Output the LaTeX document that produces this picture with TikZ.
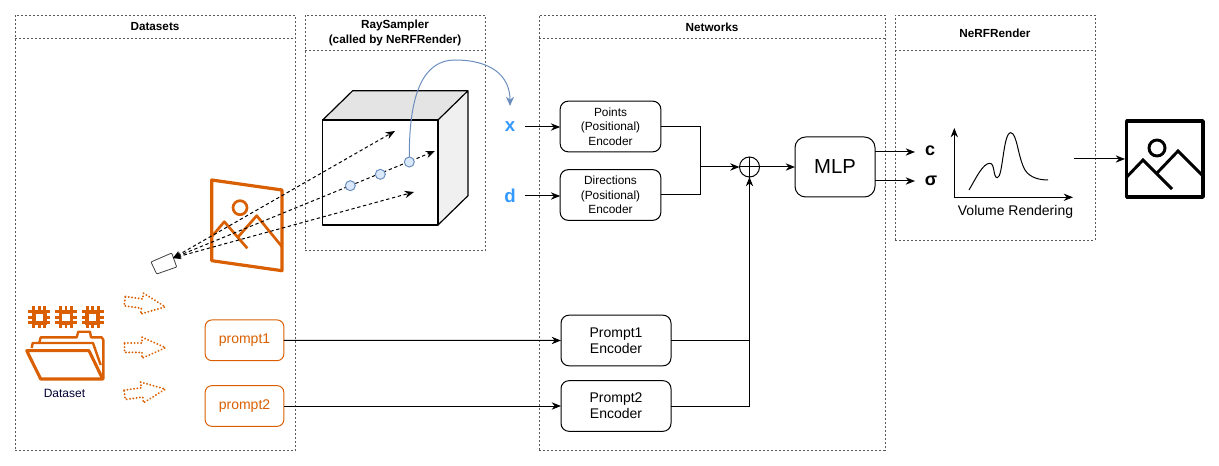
\documentclass[tikz,border=0pt]{standalone}
\usepackage{fontspec}
\setmainfont{Liberation Sans}
\usetikzlibrary{arrows.meta}
\definecolor{orng}{HTML}{D95F02}
\definecolor{blu}{HTML}{3399FF}
\definecolor{cblue}{HTML}{6C8EBF}
\definecolor{cfill}{HTML}{DAE8FC}
\definecolor{cubetop}{HTML}{E4E4E4}
\definecolor{cubeside}{HTML}{F0F0F0}
\tikzset{
  panel/.style={draw=black!65,line width=0.6pt,dash pattern=on 1.5pt off 1.5pt,anchor=north west,inner sep=0pt,outer sep=0pt},
  hdr/.style={font=\bfseries\fontsize{8.8}{10.6}\selectfont,align=center,inner sep=0pt},
  enc/.style={draw=black,line width=0.75pt,rounded corners=6pt,align=center,inner sep=0pt,outer sep=0pt,minimum width=75.5pt,minimum height=38pt,font=\fontsize{8.9}{10.9}\selectfont},
  penc/.style={enc,minimum width=82.5pt,font=\fontsize{10.5}{12}\selectfont},
  prm/.style={draw=orng,line width=0.75pt,rounded corners=5pt,text=orng,inner sep=0pt,outer sep=0pt,minimum width=59pt,minimum height=30.5pt,font=\fontsize{10.5}{12}\selectfont},
  conn/.style={line width=0.75pt,-{Stealth[length=7pt,width=5.5pt]}},
  wire/.style={line width=0.75pt},
  ray/.style={line width=0.75pt,dash pattern=on 2.5pt off 2pt,{Stealth[length=6pt,width=5pt]}-{Stealth[length=7pt,width=5.5pt]}},
  pt/.style={circle,draw=cblue,fill=cfill,line width=0.75pt,minimum size=7.5pt,inner sep=0pt,outer sep=0pt},
  varb/.style={text=blu,font=\bfseries\fontsize{14}{16}\selectfont,inner sep=0pt},
  outv/.style={font=\bfseries\fontsize{13.5}{16}\selectfont,inner sep=0pt},
  orl/.style={draw=orng,line width=2pt,line join=round},
  dotarrow/.style={draw=orng,line width=1.5pt,dash pattern=on 0.1pt off 2.4pt,line cap=round},
}
\begin{document}
\begin{tikzpicture}[x=0.75pt,y=-0.75pt]
\useasboundingbox (0,0) rectangle (1219,466);
% panels
\node[panel,minimum width=210.5pt,minimum height=326.25pt] (pdata) at (15,15) {};
\node[panel,minimum width=135.5pt,minimum height=176.25pt] (pray) at (305,15) {};
\node[panel,minimum width=259.5pt,minimum height=326.25pt] (pnet) at (539,15) {};
\node[panel,minimum width=150pt,minimum height=168.75pt] (pren) at (895,15) {};
\draw[panel] (15,38) -- (296,38);
\draw[panel] (305,50) -- (486,50);
\draw[panel] (539,38) -- (885,38);
\draw[panel] (895,50) -- (1095,50);
\node[hdr] (t1) at (155,27) {Datasets};
\node[hdr] (t2) at (395,33) {RaySampler\\(called by NeRFRender)};
\node[hdr] (t3) at (712,27) {Networks};
\node[hdr] (t4) at (995,33) {NeRFRender};
% cube
\fill[cubetop] (322.7,120) -- (352.7,90.7) -- (468,90.7) -- (438,120) -- cycle;
\fill[cubeside] (438,120) -- (468,90.7) -- (468,195.7) -- (438,225) -- cycle;
\draw[line width=0.9pt,line join=round] (322.7,120) rectangle (438,225);
\draw[line width=0.9pt,line join=round] (322.7,120) -- (352.7,90.7) -- (468,90.7) -- (468,195.7) -- (438,225) (468,90.7) -- (438,120);
% image plane
\draw[orl,line width=2.4pt] (211.7,180) -- (282,190) -- (282,270.7) -- (211.7,260.7) -- cycle;
\draw[orng,line width=2pt] (240,207.7) circle (7);
\draw[orl] (211.7,236.7) -- (224.3,221.7) -- (247.3,248.3);
\draw[orl] (238.3,236.7) -- (256.7,215.7) -- (282,246.7);
% camera
\draw[black!75,line width=0.6pt,line join=round,rounded corners=0.6pt,fill=white] (151,262) -- (171.7,253) -- (176.7,267) -- (156.7,274) -- cycle;
\coordinate (cam) at (173,258);
\coordinate (r1) at (395,131);
\coordinate (r2) at (435,151);
\coordinate (r3) at (414,192);
\draw[ray] (cam) -- (r1);
\draw[ray] (cam) -- (r2);
\draw[ray] (cam) -- (r3);
\node[pt] (s1) at (350.3,185.7) {};
\node[pt] (s2) at (380.3,174.3) {};
\node[pt] (s3) at (409.3,162) {};
\coordinate (xtop) at (510,106);
\draw[cblue,line width=0.75pt,-{Stealth[length=7pt,width=6pt]}] (s3.north) .. controls (409,90) and (425,60) .. (455,60) .. controls (490,60) and (510,75) .. (xtop);
% inputs
\node[varb] (x) at (510,127) {x};
\node[varb] (d) at (510,196) {d};
\node[enc] (pe) at (610.5,126.5) {Points\\(Positional)\\Encoder};
\node[enc] (de) at (610.5,195) {Directions\\(Positional)\\Encoder};
\node[draw,circle,line width=0.75pt,minimum size=15pt,inner sep=0pt,outer sep=0pt] (sum) at (749.5,167) {};
\draw[line width=0.75pt] (sum.west) -- (sum.east) (sum.north) -- (sum.south);
\node[draw,rounded corners=8pt,line width=0.75pt,minimum width=60pt,minimum height=45pt,inner sep=0pt,outer sep=0pt,font=\fontsize{15.2}{18}\selectfont] (mlp) at (835,167) {MLP};
\coordinate (xs) at (525,127);
\coordinate (ds) at (525,196);
\draw[conn] (xs) -- (pe.west |- xs);
\draw[conn] (ds) -- (de.west |- ds);
\coordinate (jn) at (700,167);
\draw[wire] (pe.east) -| (jn);
\draw[wire] (de.east) -| (jn);
\draw[conn] (jn) -- (sum.west);
\draw[conn] (sum.east) -- (mlp.west);
% outputs
\node[outv] (c) at (930,151) {c};
\node[outv] (sig) at (931,181) {σ};
\coordinate (ce) at (915,152);
\coordinate (se) at (915,181);
\draw[conn] (mlp.east |- ce) -- (ce);
\draw[conn] (mlp.east |- se) -- (se);
% plot
\coordinate (o) at (954.3,197.3);
\coordinate (ya) at (954.3,128);
\coordinate (xa) at (1073,197.3);
\draw[conn] (o) -- (ya);
\draw[conn] (o) -- (xa);
\draw[line width=0.75pt] (969,190) .. controls (976,178) and (983,163) .. (990,163.3) .. controls (995,163.5) and (993,177.7) .. (997.3,177.7) .. controls (1003,177.7) and (1003,132.7) .. (1010.7,132.7) .. controls (1017,132.7) and (1018,158) .. (1025,170) .. controls (1030,178) and (1040,180) .. (1048,180);
\node[inner sep=0pt,font=\fontsize{10.5}{12}\selectfont] (vr) at (1015.5,212) {Volume Rendering};
% picture icon
\draw[line width=2.6pt,line join=round] (1126.7,121) rectangle (1203,197);
\draw[line width=2.2pt] (1157,148) circle (8);
\draw[line width=2.2pt] (1127,176.7) -- (1143,160) -- (1172,189);
\draw[line width=2.2pt] (1157,173) -- (1178,151) -- (1202,175);
\coordinate (ps) at (1074,159);
\coordinate (pe2) at (1125,159);
\draw[conn] (ps) -- (pe2);
% prompts
\node[prm] (p1) at (244.5,340.3) {prompt1};
\node[prm] (p2) at (244.5,406) {prompt2};
\node[penc,align=center] (pe1) at (616,340.5) {Prompt1\\Encoder};
\node[penc,align=center] (pe2n) at (616,406) {Prompt2\\Encoder};
\draw[conn] (p1.east) -- (pe1.west);
\draw[conn] (p2.east) -- (pe2n.west);
\draw[wire] (pe1.east) -| (sum.south);
\draw[conn] (pe2n.east) -| (sum.south);
% dotted block arrows
\foreach \cy/\ang in {304/-8,347.7/0,392/8}{
  \begin{scope}[shift={(145,\cy)},rotate=\ang]
    \draw[dotarrow] (-20.5,-4.7) -- (-3,-4.7) -- (-3,-10.5) -- (20.5,0) -- (-3,10.5) -- (-3,4.7) -- (-20.5,4.7) -- cycle;
  \end{scope}
}
% CPUs
\foreach \c in {39.3,66,92.7}{
  \begin{scope}[shift={(\c,317.3)}]
    \draw[orng,line width=2.7pt] (-5.5,-5.5) rectangle (5.5,5.5);
    \foreach \o in {-5.5,0,5.5}{
      \draw[orng,line width=2pt] (\o,-11) -- (\o,-6) (\o,6) -- (\o,11) (-11,\o) -- (-6,\o) (6,\o) -- (11,\o);
    }
  \end{scope}
}
% folder
\draw[orl,line width=1.8pt] (31.7,348) -- (32.7,343) -- (93,343) -- (100.7,365);
\draw[orl,line width=1.8pt] (39.3,342.7) -- (40.7,337.3) -- (76.7,337.3) -- (78.3,331.7) -- (90,331.7) -- (91,337.3) -- (101.7,337.3) -- (103.3,340) -- (103.3,379);
\draw[orl,line width=2.3pt] (26.7,350.7) -- (89,350.7) -- (102.7,379) -- (40.7,379) -- cycle;
\node[inner sep=0pt,text=black!80!blue,font=\fontsize{9}{11}\selectfont] (ds1) at (64.5,393.7) {Dataset};
\end{tikzpicture}
\end{document}
